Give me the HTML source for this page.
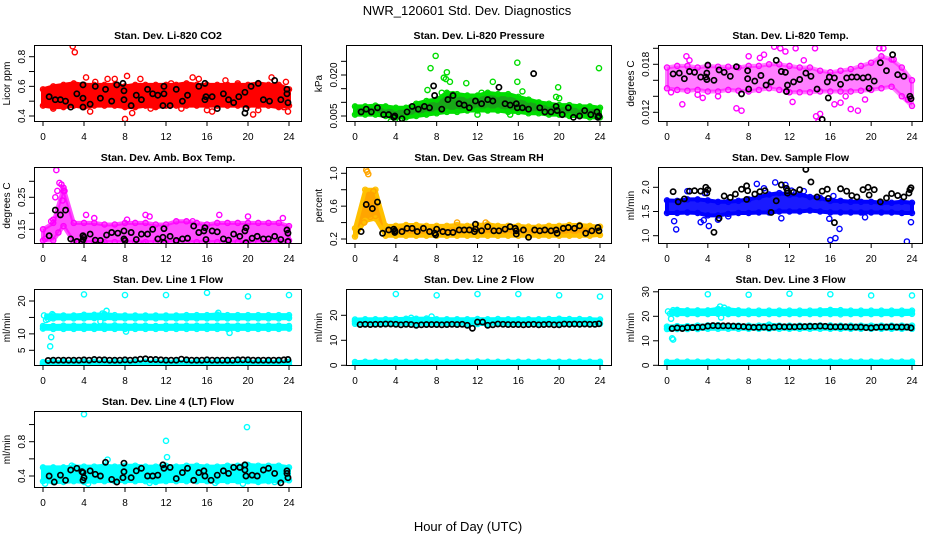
<!DOCTYPE html>
<html><head><meta charset="utf-8"><style>
html,body{margin:0;padding:0;background:#fff;}
svg{display:block;font-family:"Liberation Sans",Arial,sans-serif;}
</style></head><body>
<svg id="chart" width="936" height="540" viewBox="0 0 936 540">
<rect width="936" height="540" fill="#fff"/>
<text x="467" y="15" font-size="13" text-anchor="middle">NWR_120601  Std. Dev. Diagnostics</text>
<text x="468" y="531" font-size="13" text-anchor="middle">Hour of Day (UTC)</text>
</svg>
<script>
// ---------- DATA ----------
const hourTicks = [0,4,8,12,16,20,24];
const bandHours = [0,1,2,3,4,5,6,7,8,9,10,11,12,13,14,15,16,17,18,19,20,21,22,23,24];

// P1 CO2
const co2BandLo = [0.47,0.46,0.46,0.47,0.46,0.47,0.47,0.47,0.46,0.46,0.47,0.46,0.47,0.47,0.47,0.47,0.47,0.47,0.47,0.47,0.47,0.47,0.47,0.46,0.47];
const co2BandHi = [0.58,0.60,0.61,0.62,0.61,0.61,0.61,0.61,0.60,0.61,0.61,0.61,0.61,0.61,0.62,0.61,0.61,0.61,0.61,0.61,0.61,0.62,0.61,0.61,0.58];
const co2OutH = [2.9,3.1,4.2,6.3,7.0,8.2,9.5,8.0,8.7,4.6,14.6,15.2,16.5,16.0,17.8,20.5,21.0,22.3,23.5,23.9,23.7,1.0,5.1,19.0,12.5,10.5,13.5];
const co2OutV = [0.87,0.83,0.66,0.65,0.65,0.67,0.65,0.38,0.42,0.43,0.66,0.65,0.43,0.44,0.64,0.41,0.44,0.66,0.46,0.43,0.63,0.45,0.63,0.62,0.62,0.45,0.45];
const co2BlkH = [0.6,1.2,1.7,2.2,2.7,3.3,3.9,3.9,3.9,4.6,5.1,5.6,6.1,6.7,7.2,7.8,7.9,7.9,8.6,9.1,9.6,10.2,10.7,11.2,11.7,11.8,11.8,12.4,13.0,13.6,14.1,15.2,15.8,15.9,15.8,16.5,17.0,17.6,18.1,18.6,19.1,19.7,19.8,19.7,20.3,21.0,21.5,22.1,22.6,23.2,23.8,23.8,23.9];
const co2BlkV = [0.53,0.51,0.51,0.50,0.46,0.55,0.61,0.52,0.46,0.48,0.60,0.52,0.58,0.50,0.61,0.62,0.57,0.51,0.47,0.54,0.51,0.58,0.55,0.54,0.47,0.55,0.60,0.47,0.58,0.50,0.54,0.60,0.62,0.53,0.51,0.53,0.45,0.55,0.51,0.49,0.53,0.56,0.45,0.42,0.60,0.62,0.51,0.50,0.64,0.51,0.58,0.55,0.49];

// P2 Pressure
const presBandLo = [.0055,.0055,.0055,.005,.0045,.0045,.005,.0055,.006,.0065,.0065,.007,.007,.007,.007,.0065,.0065,.006,.006,.0055,.0055,.005,.005,.0045,.0045];
const presBandHi = [.0085,.0085,.0088,.0085,.008,.008,.0095,.0105,.011,.0135,.013,.0125,.0125,.0135,.013,.013,.012,.011,.010,.0095,.009,.009,.0085,.0085,.008];
const presOutH = [7.9,7.4,9.0,8.7,8.9,9.3,7.1,10.9,13.5,15.9,15.9,19.9,20.0,19.7,23.9,16.4,8.5,9.6,3.5,4.4,12.4,15.2,12.0];
const presOutV = [.027,.0225,.021,.019,.0185,.0175,.0145,.017,.0175,.0245,.0175,.0155,.0115,.012,.0225,.014,.0135,.013,.003,.0035,.0135,.0055,.0055];
const presBlkH = [0.6,1.1,1.6,2.2,2.8,3.3,3.8,3.9,4.6,5.1,5.6,6.2,6.8,7.3,7.7,7.8,8.5,9.1,9.6,10.2,10.7,11.2,11.8,12.4,13.0,13.5,14.1,14.7,15.2,15.8,15.9,16.4,17.0,17.5,18.1,18.6,19.2,19.7,19.8,20.3,20.9,21.4,22.0,22.5,23.1,23.7,23.8,23.9];
const presBlkV = [.0065,.0075,.0065,.0080,.0055,.0055,.0045,.0050,.0040,.0065,.0085,.0075,.0085,.0080,.0160,.0125,.0075,.0110,.0125,.0095,.0090,.0080,.0105,.0095,.0110,.0105,.0155,.0095,.0090,.0095,.0080,.0080,.0075,.0205,.0080,.0065,.0065,.0085,.0070,.0055,.0080,.0045,.0050,.0070,.0055,.0065,.0045,.0050];

// P3 Li-820 Temp
const ltBandLo = [.0150,.0148,.0147,.0148,.0146,.0146,.0148,.0147,.0146,.0148,.0150,.0148,.0145,.0145,.0145,.0146,.0146,.0146,.0146,.0147,.0148,.0150,.0152,.0140,.0128];
const ltBandHi = [.0176,.0178,.0178,.0176,.0178,.0177,.0177,.0176,.0178,.0178,.0180,.0180,.0178,.0176,.0176,.0172,.0170,.0172,.0174,.0178,.0182,.0190,.0186,.0176,.0160];
const ltOutH = [1.5,1.9,2.2,3.5,6.8,7.3,8.0,9.1,9.5,11.1,11.6,12.3,13.4,14.5,14.6,15.0,14.8,16.4,17.0,18.0,18.7,20.8,21.2,19.4,22.2,10.5,12.6,23.6,0.4,5.0,3.0,17.5];
const ltOutV = [.0130,.0190,.0185,.0138,.0125,.0122,.0190,.0188,.0192,.0200,.0196,.0133,.0185,.0200,.0115,.0118,.0108,.0130,.0132,.0124,.0122,.0200,.0200,.0136,.0186,.0202,.0200,.0136,.0145,.0140,.0142,.0140];
const ltBlkH = [0.6,1.2,1.7,2.2,2.7,3.3,3.8,3.9,3.9,4.0,4.6,5.1,5.6,6.2,6.8,7.3,7.9,7.9,8.0,8.6,9.2,9.7,10.2,10.7,11.2,11.6,11.8,11.7,12.4,13.0,13.6,14.1,14.7,15.2,15.7,15.8,15.9,16.4,17.0,17.6,18.1,18.6,19.2,19.7,19.8,20.3,20.9,21.5,22.1,22.6,23.2,23.8,23.9];
const ltBlkV = [.0168,.0169,.0162,.0171,.0170,.0164,.0164,.0169,.0161,.0179,.0160,.0173,.0170,.0165,.0177,.0143,.0172,.0162,.0149,.0159,.0166,.0154,.0158,.0185,.0171,.0170,.0154,.0146,.0158,.0161,.0169,.0165,.0149,.0111,.0158,.0138,.0164,.0163,.0155,.0163,.0164,.0164,.0163,.0164,.0150,.0159,.0182,.0172,.0192,.0167,.0165,.0140,.0137];

// P4 Amb Box Temp
const abBandLo = [.115,.115,.16,.11,.11,.11,.11,.11,.11,.11,.11,.11,.11,.11,.11,.11,.11,.11,.11,.11,.11,.11,.11,.11,.115];
const abBandHi = [.15,.17,.28,.17,.17,.17,.165,.165,.17,.17,.17,.165,.165,.175,.175,.17,.165,.17,.17,.17,.17,.17,.17,.17,.16];
const abOutH = [1.3,1.6,1.8,2.0,1.4,2.1,1.0,0.8,4.2,10.0,10.4,17.2,20.0,23.4,5.0,8.2,14.6,0.2,9.8,19.6,5.8,1.5,1.2,1.9];
const abOutV = [.335,.295,.29,.27,.27,.27,.18,.175,.195,.195,.19,.195,.19,.185,.185,.18,.175,.12,.105,.105,.105,.14,.25,.24];
const abBlkH = [0.6,1.2,1.7,2.2,2.7,3.3,3.8,3.9,3.9,4.0,4.6,5.1,5.6,6.2,6.7,7.3,7.9,7.9,8.0,8.6,9.1,9.6,10.2,10.7,11.2,11.7,11.8,11.8,12.4,13.0,13.6,14.1,14.7,15.2,15.7,15.8,15.9,16.5,17.0,17.6,18.1,18.6,19.2,19.7,19.8,19.8,20.4,20.9,21.5,22.0,22.6,23.2,23.8,23.9,23.9];
const abBlkV = [.13,.21,.195,.21,.12,.112,.11,.13,.118,.125,.135,.116,.115,.132,.14,.138,.145,.12,.115,.14,.118,.135,.135,.15,.12,.125,.152,.108,.128,.115,.12,.122,.16,.14,.145,.155,.118,.145,.142,.12,.116,.135,.128,.145,.155,.108,.122,.128,.12,.12,.128,.118,.148,.138,.112];

// P5 Gas Stream RH
const rhBandLo = [.23,.42,.45,.24,.24,.24,.24,.24,.24,.24,.24,.24,.24,.24,.24,.24,.24,.24,.24,.24,.24,.24,.24,.24,.25];
const rhBandHi = [.33,.80,.80,.36,.36,.37,.37,.36,.36,.36,.37,.36,.37,.38,.36,.36,.36,.35,.35,.36,.36,.37,.37,.36,.35];
const rhOutH = [1.1,1.3,1.2,0.9,12.8,10.0,2.0,1.5,1.8];
const rhOutV = [1.04,.99,1.02,.40,.40,.40,.48,.47,.78];
const rhBlkH = [0.6,1.1,1.7,2.2,2.7,3.3,3.8,3.9,3.9,4.6,5.1,5.6,6.1,6.7,7.3,7.8,7.9,8.0,8.6,9.1,9.6,10.2,10.7,11.2,11.7,11.8,11.8,12.4,13.0,13.6,14.1,14.7,15.2,15.7,15.8,15.8,16.5,17.0,17.6,18.1,18.6,19.2,19.7,19.8,20.4,20.9,21.5,22.0,22.6,23.2,23.8,23.9];
const rhBlkV = [.29,.62,.57,.65,.27,.31,.32,.28,.30,.29,.33,.33,.29,.33,.29,.27,.25,.32,.29,.28,.28,.31,.31,.31,.29,.38,.32,.30,.35,.30,.30,.32,.35,.33,.26,.30,.31,.22,.31,.30,.31,.30,.31,.27,.33,.34,.33,.36,.27,.30,.34,.30];

// P6 Sample Flow
const sfBandLo = [1.47,1.47,1.48,1.47,1.42,1.42,1.45,1.47,1.47,1.48,1.48,1.50,1.50,1.50,1.52,1.50,1.48,1.48,1.48,1.48,1.48,1.48,1.48,1.47,1.47];
const sfBandHi = [1.73,1.72,1.75,1.75,1.73,1.70,1.70,1.72,1.75,1.80,1.85,1.88,1.85,1.85,1.80,1.78,1.72,1.72,1.70,1.70,1.70,1.68,1.68,1.70,1.68];
const sfOutH = [0.7,0.9,3.3,3.6,4.1,8.8,10.6,11.6,16.0,16.5,16.9,15.9,23.5,23.9,19.4,2.0,3.7,9.5,12.2,13.4,16.3,5.0,11.2,6.0];
const sfOutV = [1.30,1.13,1.28,1.32,1.20,2.07,2.10,2.05,0.91,0.95,1.14,1.35,0.88,1.28,1.38,1.92,1.88,1.98,1.93,1.92,1.82,1.33,1.36,1.40];
const sfBlkH = [0.6,1.1,1.7,2.2,2.7,3.3,3.8,3.9,4.0,4.6,5.1,5.6,6.2,6.7,7.3,7.8,7.8,7.9,8.6,9.1,9.6,10.2,10.7,11.2,11.7,11.8,11.8,12.4,13.0,13.6,14.1,14.7,15.2,15.7,15.8,16.4,17.0,17.6,18.1,18.6,19.2,19.7,19.8,20.3,20.9,21.5,22.0,22.6,23.2,23.7,23.8,23.9];
const sfBlkV = [1.91,1.70,1.76,1.92,1.93,1.92,2.00,1.88,1.95,1.07,1.36,1.82,1.79,1.86,1.96,2.03,1.75,1.93,1.86,1.91,1.93,1.48,1.72,2.05,1.98,1.93,1.88,1.90,1.95,2.37,2.11,1.80,1.92,1.96,1.77,1.27,1.97,1.92,1.83,1.80,1.95,2.00,1.84,1.95,1.70,1.78,1.87,1.83,1.80,1.88,1.95,1.99];

// Line flows: shared black-sample hours
const lineBlkH = [0.5,1.0,1.5,2.0,2.5,3.0,3.5,4.0,4.5,5.0,5.5,6.0,6.5,7.0,7.5,8.0,8.5,9.0,9.5,10.0,10.5,11.0,11.5,12.0,12.5,13.0,13.5,14.0,14.5,15.0,15.5,16.0,16.5,17.0,17.5,18.0,18.5,19.0,19.5,20.0,20.5,21.0,21.5,22.0,22.5,23.0,23.5,23.9];

// P7 Line 1
const l1UpLo = [14.8,14.7,14.7,14.7,14.7,14.8,14.8,14.7,14.7,14.7,14.7,14.7,14.7,14.7,14.7,14.7,14.7,14.7,14.7,14.7,14.7,14.7,14.7,14.7,14.8];
const l1UpHi = [15.6,15.7,15.6,15.6,15.8,15.8,16.0,15.7,15.6,15.6,15.6,15.6,15.6,15.6,15.7,15.7,15.7,15.9,15.7,15.7,15.7,15.7,15.7,15.7,15.7];
const l1MidLo = [11.6,11.5,11.5,11.5,11.5,11.5,11.5,11.5,11.5,11.5,11.5,11.5,11.5,11.5,11.5,11.5,11.5,11.5,11.5,11.5,11.5,11.5,11.5,11.5,11.6];
const l1MidHi = [12.4,12.4,12.5,12.5,12.5,12.5,12.5,12.6,12.5,12.5,12.5,12.4,12.5,12.5,12.5,12.5,12.5,12.5,12.5,12.5,12.5,12.5,12.5,12.5,12.4];
const l1LowLo = [0.5,0.6,0.6,0.6,0.6,0.6,0.6,0.6,0.6,0.6,0.6,0.6,0.6,0.6,0.6,0.6,0.6,0.6,0.6,0.6,0.6,0.6,0.6,0.6,0.6];
const l1LowHi = [1.4,1.5,1.5,1.5,1.5,1.5,1.5,1.5,1.5,1.5,1.5,1.5,1.5,1.5,1.5,1.5,1.5,1.5,1.5,1.5,1.5,1.5,1.5,1.5,1.5];
const l1OutH = [4,8,12,16,20,24,0.7,0.8,0.1,0.3,0.5,0.9,6.2,5.8,5.6,18.2,8.1,17.1,0.0,0.1];
const l1OutV = [22,21.8,21.8,22.5,21.4,21.8,6.2,9.0,15.6,14.2,14.5,16,17,16.2,13.8,10.3,10.7,16.4,1.0,12.0];
const l1BlkV = [1.9,2.0,2.0,2.0,2.0,2.0,2.0,2.1,2.0,2.2,2.1,2.1,2.0,2.0,2.0,2.1,2.0,2.1,2.3,2.4,2.2,2.2,2.1,2.0,2.0,2.0,2.3,2.1,2.0,2.0,2.0,2.1,2.0,2.0,2.0,2.0,2.0,2.1,2.1,2.1,2.0,2.0,2.0,2.0,2.0,2.0,2.1,2.2];

// P8 Line 2
const l2UpLo = [16.6,16.6,16.6,16.6,16.6,16.6,16.6,16.6,16.6,16.6,16.6,16.6,16.5,16.6,16.6,16.6,16.6,16.6,16.6,16.6,16.6,16.6,16.6,16.6,16.6];
const l2UpHi = [18.3,18.4,18.4,18.4,18.5,18.6,18.6,18.7,18.4,18.4,18.4,18.4,18.5,18.4,18.5,18.4,18.4,18.4,18.4,18.5,18.6,18.5,18.5,18.4,18.3];
const l2LowLo = [0.2,0.2,0.2,0.2,0.2,0.2,0.2,0.2,0.2,0.2,0.2,0.2,0.2,0.2,0.2,0.2,0.2,0.2,0.2,0.2,0.2,0.2,0.2,0.2,0.2];
const l2LowHi = [1.3,1.4,1.4,1.4,1.5,1.4,1.4,1.4,1.4,1.4,1.4,1.4,1.5,1.4,1.4,1.4,1.4,1.4,1.4,1.4,1.4,1.4,1.4,1.4,1.4];
const l2OutH = [4,8,12,16,20,24,5.5,7.5,0.0];
const l2OutV = [28.5,28,28.5,28.5,28,27.5,19,19.5,17.5];
const l2BlkV = [16.3,16.4,16.3,16.4,16.4,16.5,16.5,16.4,16.2,16.4,16.3,16.0,16.2,16.3,16.3,16.3,16.2,16.3,16.4,16.3,16.4,16.0,14.8,17.3,17.3,16.0,16.2,16.5,16.4,16.3,16.3,16.3,16.2,16.3,16.4,16.2,16.3,16.4,16.2,16.2,16.5,16.4,16.5,16.4,16.5,16.4,16.4,16.6];

// P9 Line 3
const l3UpLo = [20.8,20.9,20.9,20.9,20.9,21.0,20.9,20.9,20.9,20.9,20.9,20.9,20.9,20.9,20.9,20.9,20.9,20.8,20.9,20.9,20.9,20.9,20.9,20.9,21.0];
const l3UpHi = [22.2,22.6,22.4,22.4,22.4,23.0,22.8,22.4,22.3,22.3,22.3,22.3,22.3,22.3,22.3,22.4,22.6,22.5,22.3,22.3,22.3,22.3,22.3,22.3,22.3];
const l3MidLo = [14.8,14.8,14.8,14.8,14.9,14.9,14.9,14.9,14.9,14.9,14.9,14.9,14.9,14.9,14.9,14.9,14.9,14.9,14.9,14.9,14.9,14.9,14.9,14.9,14.9];
const l3MidHi = [15.8,16.0,16.0,16.2,16.3,16.4,16.2,16.2,16.2,16.2,16.6,16.2,16.2,16.2,16.2,16.3,16.3,16.2,16.2,16.2,16.2,16.2,16.2,16.2,16.2];
const l3LowLo = [0.3,0.3,0.3,0.3,0.3,0.3,0.3,0.3,0.3,0.3,0.3,0.3,0.3,0.3,0.3,0.3,0.3,0.3,0.3,0.3,0.3,0.3,0.3,0.3,0.3];
const l3LowHi = [1.4,1.5,1.5,1.5,1.5,1.5,1.5,1.5,1.5,1.5,1.5,1.5,1.5,1.5,1.5,1.5,1.5,1.5,1.5,1.5,1.5,1.5,1.5,1.5,1.5];
const l3OutH = [4,8,12,16,20,24,0.1,0.2,0.5,0.6,0.4,0.6,5.2,5.3,5.6,0.3];
const l3OutV = [29,28.8,29.2,29,28.5,28.5,22,15,11,10.5,19,22.5,24,19.5,23.5,21];
const l3BlkV = [15.0,15.3,15.0,15.4,15.4,15.5,15.6,16.0,16.2,16.1,16.1,16.1,16.0,15.9,15.8,15.6,15.5,15.5,15.6,15.4,15.6,15.8,15.7,15.7,15.7,15.8,15.8,15.9,15.9,16.0,15.9,15.7,15.7,15.7,15.7,15.6,15.6,15.6,15.4,15.3,15.5,15.6,15.6,15.7,15.6,15.6,15.6,15.3];

// P10 Line 4
const l4BandLo = [0.34,0.33,0.33,0.34,0.33,0.34,0.34,0.34,0.34,0.34,0.34,0.33,0.34,0.34,0.34,0.34,0.34,0.34,0.34,0.34,0.34,0.33,0.34,0.34,0.35];
const l4BandHi = [0.50,0.50,0.50,0.51,0.51,0.51,0.52,0.51,0.52,0.52,0.51,0.51,0.52,0.51,0.52,0.52,0.51,0.51,0.52,0.52,0.53,0.52,0.52,0.52,0.50];
const l4OutH = [4.0,12.0,12.1,19.9,6.3,0.2,4.4,19.5,2.8,10.4,16.8,22.6];
const l4OutV = [1.12,0.81,0.62,0.97,0.59,0.31,0.31,0.31,0.52,0.32,0.32,0.33];
const l4BlkH = [0.6,1.1,1.7,2.2,2.7,3.3,3.8,3.9,3.9,4.0,4.6,5.1,5.6,6.1,6.7,7.2,7.8,7.9,7.9,8.6,9.1,9.6,10.2,10.7,11.2,11.7,11.8,12.4,13.0,13.6,14.1,14.7,15.2,15.7,15.8,16.4,17.0,17.6,18.1,18.6,19.2,19.7,19.7,19.8,20.4,20.9,21.5,22.0,22.6,23.2,23.8,23.8,23.9];
const l4BlkV = [.40,.33,.41,.35,.47,.49,.45,.35,.44,.38,.46,.42,.40,.56,.36,.33,.38,.55,.45,.38,.46,.49,.40,.40,.41,.53,.49,.50,.37,.44,.49,.35,.44,.46,.40,.35,.41,.46,.43,.50,.50,.53,.47,.40,.41,.40,.47,.49,.43,.32,.46,.43,.38];

// ---------- RENDER ----------
const NS = 'http://www.w3.org/2000/svg';
const svg = document.getElementById('chart');
function mk(tag, attrs, parent){
  const e = document.createElementNS(NS, tag);
  for (const k in attrs) e.setAttribute(k, attrs[k]);
  (parent||svg).appendChild(e);
  return e;
}
const colL = [34,346,658], colR = [302,612,923], colX0 = [43,355,667], colX24 = [289,600,912];
const rowT = [45,167,289,411], rowB = [122,244,366,488];

function panel(cfg){
  const c = cfg.col, r = cfg.row;
  const L = colL[c], R = colR[c], T = rowT[r], B = rowB[r];
  const xs = h => colX0[c] + h*(colX24[c]-colX0[c])/24;
  const ys = v => cfg.p1 + (v - cfg.v1)*(cfg.p2 - cfg.p1)/(cfg.v2 - cfg.v1);
  const g = mk('g', {});
  
  
  const clipId = 'clip-' + cfg.name;
  const cp = mk('clipPath', {id: clipId}, g);
  mk('rect', {x:L, y:T, width:R-L, height:B-T}, cp);
  const plot = mk('g', {'clip-path':'url(#'+clipId+')'}, g);
  (cfg.bands||[]).forEach((b, bi) => {
    let d = '';
    bandHours.forEach((h,i)=>{ d += (i?'L':'M') + xs(Math.max(h, b.start||0)).toFixed(1) + ' ' + ys(b.hi[i]).toFixed(1); });
    for (let i = bandHours.length-1; i >= 0; i--) d += 'L' + xs(Math.max(bandHours[i], b.start||0)).toFixed(1) + ' ' + ys(b.lo[i]).toFixed(1);
    const p = mk('path', {d: d+'Z', fill: b.fill, stroke: b.edge, 'stroke-width': 4, 'stroke-linejoin':'round', 'fill-opacity': b.op||1, 'stroke-opacity': b.op||1}, plot);
    
    
    bandHours.forEach((h,i)=>{
      if (h < (b.start||0)) return;
      [b.hi[i], b.lo[i]].forEach(v=>{
        const ci = mk('circle', {cx: xs(h), cy: ys(v), r: 2.6, fill:'none', stroke: b.edge, 'stroke-width': 1.3}, plot);
        
        
      });
    });
  });
  cfg.outH.forEach((h,i)=>{
    const ci = mk('circle', {cx: xs(h), cy: ys(cfg.outV[i]), r: 2.6, fill:'none', stroke: cfg.color, 'stroke-width': 1.4}, plot);
    
    
  });
  cfg.blkH.forEach((h,i)=>{
    const ci = mk('circle', {cx: xs(h), cy: ys(cfg.blkV[i]), r: 2.6, fill:'none', stroke: '#000', 'stroke-width': 1.7}, plot);
    
    
  });
  const fr = mk('rect', {x:L+0.5, y:T+0.5, width:R-L-1, height:B-T-1, fill:'none', stroke:'#000', 'stroke-width':1}, g);
  
  
  hourTicks.forEach(t=>{
    const x = xs(t);
    mk('line', {x1:x, x2:x, y1:B, y2:B+4, stroke:'#000', 'stroke-width':1}, g);
    const tx = mk('text', {x:x, y:B+18, 'font-size':10, 'text-anchor':'middle'}, g);
    tx.textContent = t;
    
    
  });
  cfg.yTicks.forEach(t=>{
    const y = ys(t);
    mk('line', {x1:L-5, x2:L, y1:y, y2:y, stroke:'#000', 'stroke-width':1}, g);
  });
  cfg.yLabels.forEach(t=>{
    const y = ys(t);
    const tx = mk('text', {x:L-9, y:y, 'font-size':10, 'text-anchor':'middle', transform:'rotate(-90 '+(L-9)+' '+y+')'}, g);
    tx.textContent = cfg.fmt ? cfg.fmt(t) : String(t);
    
    
  });
  const yt = mk('text', {x:L-24, y:(T+B)/2, 'font-size':10, 'text-anchor':'middle', transform:'rotate(-90 '+(L-24)+' '+((T+B)/2)+')'}, g);
  yt.textContent = cfg.ylab;
  
  
  const ti = mk('text', {x:(L+R)/2, y:T-6, 'font-size':10.5, 'font-weight':'bold', 'text-anchor':'middle'}, g);
  ti.textContent = cfg.title;
  
  
}
const f1 = v => v.toFixed(1), f3 = v => v.toFixed(3), f2 = v => v.toFixed(2);

panel({name:'co2-panel', col:0,row:0,title:'Stan. Dev. Li-820 CO2', ylab:'Licor ppm', color:'#ff0000',
  v1:0.4,p1:116,v2:0.8,p2:56.7, yTicks:[0.4,0.5,0.6,0.7,0.8], yLabels:[0.4,0.6,0.8], fmt:f1,
  bands:[{lo:co2BandLo,hi:co2BandHi,fill:'#ff0000',edge:'#ff0000'}],
  outH:co2OutH,outV:co2OutV,blkH:co2BlkH,blkV:co2BlkV});
panel({name:'pressure-panel', col:1,row:0,title:'Stan. Dev. Li-820 Pressure', ylab:'kPa', color:'#00dd00',
  v1:0.005,p1:116,v2:0.020,p2:75, yTicks:[0.005,0.010,0.015,0.020,0.025], yLabels:[0.005,0.020], fmt:f3,
  bands:[{lo:presBandLo,hi:presBandHi,fill:'#18a818',edge:'#00dd00'}],
  outH:presOutH,outV:presOutV,blkH:presBlkH,blkV:presBlkV});
panel({name:'li820-temp-panel', col:2,row:0,title:'Stan. Dev. Li-820 Temp.', ylab:'degrees C', color:'#ff00ff',
  v1:0.012,p1:112.3,v2:0.018,p2:64.3, yTicks:[0.012,0.014,0.016,0.018,0.020], yLabels:[0.012,0.018], fmt:f3,
  bands:[{lo:ltBandLo,hi:ltBandHi,fill:'#ff00ff',edge:'#ff00ff',op:0.5}],
  outH:ltOutH,outV:ltOutV,blkH:ltBlkH,blkV:ltBlkV});
panel({name:'amb-box-temp-panel', col:0,row:1,title:'Stan. Dev. Amb. Box Temp.', ylab:'degrees C', color:'#ff00ff',
  v1:0.15,p1:229.3,v2:0.25,p2:197.3, yTicks:[0.15,0.20,0.25,0.30], yLabels:[0.15,0.25], fmt:f2,
  bands:[{lo:abBandLo,hi:abBandHi,fill:'#ff00ff',edge:'#ff00ff',op:0.7}],
  outH:abOutH,outV:abOutV,blkH:abBlkH,blkV:abBlkV});
panel({name:'rh-panel', col:1,row:1,title:'Stan. Dev. Gas Stream RH', ylab:'percent', color:'#ffa500',
  v1:0.2,p1:239,v2:1.0,p2:173.3, yTicks:[0.2,0.4,0.6,0.8,1.0], yLabels:[0.2,0.6,1.0], fmt:f1,
  bands:[{lo:rhBandLo,hi:rhBandHi,fill:'#ffa500',edge:'#ffc000'}],
  outH:rhOutH,outV:rhOutV,blkH:rhBlkH,blkV:rhBlkV});
panel({name:'sample-flow-panel', col:2,row:1,title:'Stan. Dev. Sample Flow', ylab:'ml/min', color:'#0000ff',
  v1:1.0,p1:235.7,v2:2.0,p2:187.3, yTicks:[1.0,1.5,2.0], yLabels:[1.0,1.5,2.0], fmt:f1,
  bands:[{lo:sfBandLo,hi:sfBandHi,fill:'#1a1aff',edge:'#0000ff'}],
  outH:sfOutH,outV:sfOutV,blkH:sfBlkH,blkV:sfBlkV});
panel({name:'line1-flow-panel', col:0,row:2,title:'Stan. Dev. Line 1 Flow', ylab:'ml/min', color:'#00ffff',
  v1:5,p1:350.3,v2:20,p2:301, yTicks:[5,10,15,20], yLabels:[5,10,20],
  bands:[{lo:l1UpLo,hi:l1UpHi,fill:'#00ffff',edge:'#00ffff',start:0.3},{lo:l1MidLo,hi:l1MidHi,fill:'#00ffff',edge:'#00ffff'},{lo:l1LowLo,hi:l1LowHi,fill:'#00ffff',edge:'#00ffff'}],
  outH:l1OutH,outV:l1OutV,blkH:lineBlkH,blkV:l1BlkV});
panel({name:'line2-flow-panel', col:1,row:2,title:'Stan. Dev. Line 2 Flow', ylab:'ml/min', color:'#00ffff',
  v1:0,p1:365.3,v2:20,p2:315.3, yTicks:[0,10,20], yLabels:[0,10,20],
  bands:[{lo:l2UpLo,hi:l2UpHi,fill:'#00ffff',edge:'#00ffff'},{lo:l2LowLo,hi:l2LowHi,fill:'#00ffff',edge:'#00ffff'}],
  outH:l2OutH,outV:l2OutV,blkH:lineBlkH,blkV:l2BlkV});
panel({name:'line3-flow-panel', col:2,row:2,title:'Stan. Dev. Line 3 Flow', ylab:'ml/min', color:'#00ffff',
  v1:0,p1:365.3,v2:30,p2:291.8, yTicks:[0,10,20,30], yLabels:[0,10,20,30],
  bands:[{lo:l3UpLo,hi:l3UpHi,fill:'#00ffff',edge:'#00ffff',start:0.4},{lo:l3MidLo,hi:l3MidHi,fill:'#00ffff',edge:'#00ffff'},{lo:l3LowLo,hi:l3LowHi,fill:'#00ffff',edge:'#00ffff'}],
  outH:l3OutH,outV:l3OutV,blkH:lineBlkH,blkV:l3BlkV});
panel({name:'line4-flow-panel', col:0,row:3,title:'Stan. Dev. Line 4 (LT) Flow', ylab:'ml/min', color:'#00ffff',
  v1:0.4,p1:476,v2:0.8,p2:441.7, yTicks:[0.4,0.6,0.8,1.0], yLabels:[0.4,0.8], fmt:f1,
  bands:[{lo:l4BandLo,hi:l4BandHi,fill:'#00ffff',edge:'#00ffff'}],
  outH:l4OutH,outV:l4OutV,blkH:l4BlkH,blkV:l4BlkV});
</script>
</body></html>
